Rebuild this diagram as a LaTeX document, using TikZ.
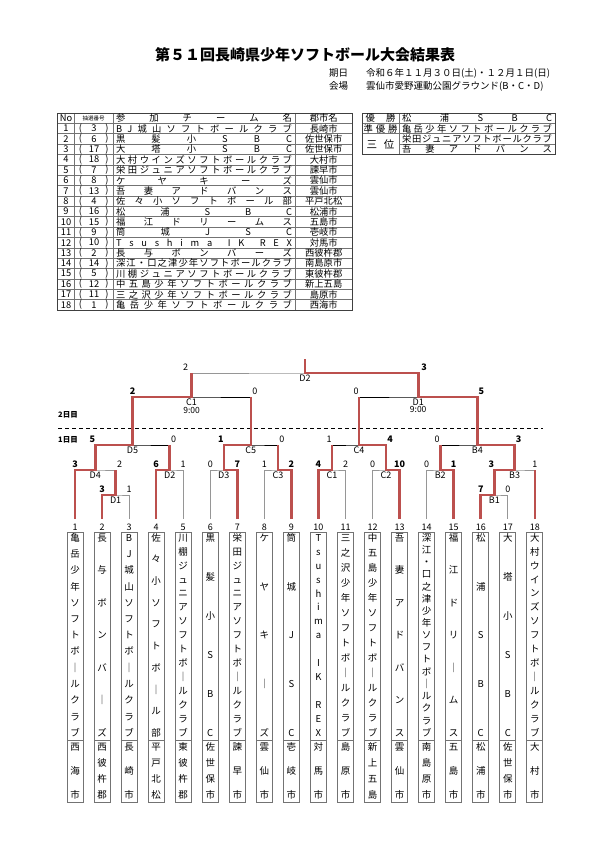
\documentclass[tikz,border=0pt]{standalone}
\usepackage{fontspec}
\setmainfont{Noto Sans CJK JP}
\usetikzlibrary{calc,positioning}

\definecolor{winred}{RGB}{188,80,78}
\definecolor{firstgray}{RGB}{150,150,150}

% spread characters across a fixed width
\def\hsprA#1#2\hsprEnd{#1\ifx\relax#2\relax\else\hfill\hsprA#2\hsprEnd\fi}
\newcommand\hspread[2]{\makebox[#1]{\expandafter\hsprA#2\hsprEnd}}
% stack characters down a fixed height
\def\vsprA#1#2\vsprEnd{\hbox to 13pt{\hss\rule[-1.5pt]{0pt}{9.6pt}#1\hss}%
  \ifx\relax#2\relax\else\vfill\vsprA#2\vsprEnd\fi}
\newcommand\vspread[2]{\vbox to #1{\offinterlineskip\expandafter\vsprA#2\vsprEnd}}

\begin{document}
\begin{tikzpicture}[x=1pt,y=-1pt,
  tline/.style={draw=black!55,line width=0.5pt},
  frame/.style={draw=black!75,line width=0.8pt},
  cell/.style={inner sep=0pt,font=\fontsize{9.3}{10}\selectfont},
  info/.style={inner sep=0pt,anchor=west,font=\fontsize{9.5}{10}\selectfont},
  firstline/.style={draw=firstgray,line width=0.7pt},
  upperline/.style={draw=black,line width=0.7pt},
  winline/.style={draw=winred,line width=2.6pt,line join=miter},
  score/.style={anchor=south,inner sep=1pt,yshift=1pt,font=\fontsize{9}{10}\selectfont},
  winscore/.style={score,font=\fontsize{9}{10}\selectfont\bfseries},
  sl/.style={xshift=-3pt},
  sr/.style={xshift=4pt},
  mlabel/.style={anchor=north,inner sep=0.5pt,yshift=-1pt,font=\fontsize{9}{10}\selectfont},
  timelabel/.style={inner sep=0.5pt,font=\fontsize{8.5}{9}\selectfont},
  daylabel/.style={inner sep=0pt,font=\fontsize{7.5}{8}\selectfont\bfseries},
  tnum/.style={inner sep=0pt,font=\fontsize{9}{10}\selectfont},
  boxline/.style={draw=black!55,line width=0.8pt},
  vname/.style={inner sep=0pt,font=\fontsize{9.5}{10}\selectfont}]
\useasboundingbox (0,0) rectangle (595,842);

% title
\node[font=\fontsize{15}{15}\selectfont\bfseries] (title) at (305,55) {第５１回長崎県少年ソフトボール大会結果表};
\node[info] (dateh) at (329,73) {期日};
\node[info] (date) at (366,73) {令和６年１１月３０日(土)・１２月１日(日)};
\node[info] (placeh) at (329,86) {会場};
\node[info] (place) at (366,86) {雲仙市愛野運動公園グラウンド(B・C・D)};

% entry table
\foreach \k in {0,...,19}
  \draw[tline] (57.5,{113+10.37*\k}) -- (352.5,{113+10.37*\k});
\foreach \x in {74.5,113,295}
  \draw[tline] (\x,113) -- (\x,310.3);
\draw[frame] (57.5,113) rectangle (352.5,310.3);
\node[cell] (hno) at (66,118.2) {No};
\node[cell,font=\fontsize{5.5}{6}\selectfont] (hlot) at (93.7,118.2) {抽選番号};
\node[cell] (hteam) at (204,118.2) {\hspread{176pt}{参加チーム名}};
\node[cell] (hcity) at (323.7,118.2) {郡市名};
\foreach \no/\lot/\team/\city in {
  1/3/BJ城山ソフトボールクラブ/長崎市,
  2/6/黒髪小SBC/佐世保市,
  3/17/大塔小SBC/佐世保市,
  4/18/大村ウインズソフトボールクラブ/大村市,
  5/7/栄田ジュニアソフトボールクラブ/諫早市,
  6/8/ケヤキーズ/雲仙市,
  7/13/吾妻アドバンス/雲仙市,
  8/4/佐々小ソフトボール部/平戸北松,
  9/16/松浦SBC/松浦市,
  10/15/福江ドリームス/五島市,
  11/9/筒城JSC/壱岐市,
  12/10/Tsushima{}IK{}REX/対馬市,
  13/2/長与ボンバーズ/西彼杵郡,
  14/14/深江・口之津少年ソフトボールクラブ/南島原市,
  15/5/川棚ジュニアソフトボールクラブ/東彼杵郡,
  16/12/中五島少年ソフトボールクラブ/新上五島,
  17/11/三之沢少年ソフトボールクラブ/島原市,
  18/1/亀岳少年ソフトボールクラブ/西海市}{
  \pgfmathsetmacro\y{113+10.37*(\no+0.5)}
  \node[cell] (no\no) at (66,\y) {\no};
  \node[cell] (lp\no) at (80.5,\y) {(};
  \node[cell] (lot\no) at (94,\y) {\lot};
  \node[cell] (rp\no) at (107,\y) {)};
  \node[cell] (team\no) at (204,\y) {\hspread{176pt}{\team}};
  \node[cell] (city\no) at (323.7,\y) {\city};
}

% result table
\foreach \k in {0,1,2,4}
  \draw[tline] (362,{113+10.37*\k}) -- (555,{113+10.37*\k});
\draw[tline] (399,144.1) -- (555,144.1);
\draw[tline] (399,113) -- (399,154.5);
\draw[frame] (362,113) rectangle (555,154.5);
\node[cell] (rwin) at (380.5,118.2) {\hspread{30pt}{優勝}};
\node[cell] (rwinteam) at (477,118.2) {\hspread{150pt}{松浦SBC}};
\node[cell] (rsec) at (380.5,128.6) {\hspread{34pt}{準優勝}};
\node[cell] (rsecteam) at (477,128.6) {\hspread{150pt}{亀岳少年ソフトボールクラブ}};
\node[cell,font=\fontsize{10.5}{11}\selectfont] (rthird) at (380.5,144.1) {\hspread{28pt}{三位}};
\node[cell] (rthirdA) at (477,138.9) {\hspread{150pt}{栄田ジュニアソフトボールクラブ}};
\node[cell] (rthirdB) at (477,149.3) {\hspread{150pt}{吾妻アドバンス}};

% bracket points
\foreach \i in {1,...,18}
  \coordinate (t\i) at ({75+27.05*(\i-1)},519);
\coordinate (D1) at (115.6,495);
\coordinate (D4) at (95.3,470);
\coordinate (D2) at (169.7,470);
\coordinate (D5) at (132.5,445);
\coordinate (D3) at (223.8,470);
\coordinate (C3) at (277.9,470);
\coordinate (C5) at (250.8,445);
\coordinate (C1) at (332.0,470);
\coordinate (C2) at (386.1,470);
\coordinate (C4) at (359.0,445);
\coordinate (B2) at (440.2,470);
\coordinate (B1) at (494.3,495);
\coordinate (B3) at (514.6,470);
\coordinate (B4) at (477.4,445);
\coordinate (c1day2) at (191.6,397);
\coordinate (d1day2) at (418.2,397);
\coordinate (final) at (304.9,373);
\coordinate (top) at (304.9,359);

% day split
\coordinate (dayL) at (58,428);
\coordinate (dayR) at (543,428);
\draw[dash pattern=on 4pt off 3pt,line width=0.7pt] (dayL) -- (dayR);
\node[daylabel] (day2) at (68,415) {2日目};
\node[daylabel] (day1) at (68,440) {1日目};

% bracket lines
\draw[firstline] (t2) |- (D1) -| (t3);
\draw[firstline] (t1) |- (D4) -| (D1);
\draw[firstline] (t4) |- (D2) -| (t5);
\draw[firstline] (t6) |- (D3) -| (t7);
\draw[firstline] (t8) |- (C3) -| (t9);
\draw[firstline] (t10) |- (C1) -| (t11);
\draw[firstline] (t12) |- (C2) -| (t13);
\draw[firstline] (t14) |- (B2) -| (t15);
\draw[firstline] (t16) |- (B1) -| (t17);
\draw[firstline] (B1) |- (B3) -| (t18);
\draw[upperline] (D4) |- (D5) -| (D2);
\draw[upperline] (D3) |- (C5) -| (C3);
\draw[upperline] (C1) |- (C4) -| (C2);
\draw[upperline] (B2) |- (B4) -| (B3);
\draw[upperline] (D5) |- (c1day2) -| (C5);
\draw[upperline] (C4) |- (d1day2) -| (B4);
\draw[firstline] (c1day2) |- (final) -| (d1day2);

% winners
\draw[winline] (t1) |- (D4) |- (D5) |- (c1day2) -- (c1day2 |- final);
\draw[winline] (t2) |- (D1) -- (D1 |- D4);
\draw[winline] (t4) |- (D2) -- (D2 |- D5);
\draw[winline] (t7) |- (D3) |- (C5) -- (C5 |- c1day2);
\draw[winline] (t9) |- (C3) -- (C3 |- C5);
\draw[winline] (t10) |- (C1) -- (C1 |- C4);
\draw[winline] (t13) |- (C2) |- (C4) -- (C4 |- d1day2);
\draw[winline] (t15) |- (B2) -- (B2 |- B4);
\draw[winline] (t16) |- (B1) |- (B3) |- (B4) |- (d1day2) |- (final) -- (top);
\draw[winline] (t18) -- (t18 |- B3);

% scores
\node[winscore] (sD1L) at (t2 |- D1) {3};
\node[score] (sD1R) at (t3 |- D1) {1};
\node[winscore] (sD4L) at (t1 |- D4) {3};
\node[score,sr] (sD4R) at (D1 |- D4) {2};
\node[winscore] (sD2L) at (t4 |- D2) {6};
\node[score] (sD2R) at (t5 |- D2) {1};
\node[winscore,sl] (sD5L) at (D4 |- D5) {5};
\node[score,sr] (sD5R) at (D2 |- D5) {0};
\node[score] (sD3L) at (t6 |- D3) {0};
\node[winscore] (sD3R) at (t7 |- D3) {7};
\node[score] (sC3L) at (t8 |- C3) {1};
\node[winscore] (sC3R) at (t9 |- C3) {2};
\node[winscore,sl] (sC5L) at (D3 |- C5) {1};
\node[score,sr] (sC5R) at (C3 |- C5) {0};
\node[winscore] (sC1L) at (t10 |- C1) {4};
\node[score] (sC1R) at (t11 |- C1) {2};
\node[score] (sC2L) at (t12 |- C2) {0};
\node[winscore] (sC2R) at (t13 |- C2) {10};
\node[score,sl] (sC4L) at (C1 |- C4) {1};
\node[winscore,sr] (sC4R) at (C2 |- C4) {4};
\node[score] (sB2L) at (t14 |- B2) {0};
\node[winscore] (sB2R) at (t15 |- B2) {1};
\node[winscore] (sB1L) at (t16 |- B1) {7};
\node[score] (sB1R) at (t17 |- B1) {0};
\node[winscore,sl] (sB3L) at (B1 |- B3) {3};
\node[score] (sB3R) at (t18 |- B3) {1};
\node[score,sl] (sB4L) at (B2 |- B4) {0};
\node[winscore,sr] (sB4R) at (B3 |- B4) {3};
\node[winscore] (sc1L) at (D5 |- c1day2) {2};
\node[score,sr] (sc1R) at (C5 |- c1day2) {0};
\node[score,sl] (sd1L) at (C4 |- d1day2) {0};
\node[winscore,sr] (sd1R) at (B4 |- d1day2) {5};
\node[score,sl,xshift=-3pt] (sfL) at (c1day2 |- final) {2};
\node[winscore,sr,xshift=2pt] (sfR) at (d1day2 |- final) {3};

% game labels
\node[mlabel] (lD1) at (D1) {D1};
\node[mlabel] (lD4) at (D4) {D4};
\node[mlabel] (lD2) at (D2) {D2};
\node[mlabel] (lD5) at (D5) {D5};
\node[mlabel] (lD3) at (D3) {D3};
\node[mlabel] (lC3) at (C3) {C3};
\node[mlabel] (lC5) at (C5) {C5};
\node[mlabel] (lC1) at (C1) {C1};
\node[mlabel] (lC2) at (C2) {C2};
\node[mlabel] (lC4) at (C4) {C4};
\node[mlabel] (lB2) at (B2) {B2};
\node[mlabel] (lB1) at (B1) {B1};
\node[mlabel] (lB3) at (B3) {B3};
\node[mlabel] (lB4) at (B4) {B4};
\node[mlabel] (lc1day2) at (c1day2) {C1};
\node[timelabel,below=0pt of lc1day2] (tc1day2) {9:00};
\node[mlabel] (ld1day2) at (d1day2) {D1};
\node[timelabel,below=0pt of ld1day2] (td1day2) {9:00};
\node[mlabel] (lfinal) at (final) {D2};

% team boxes
\foreach \i/\nm/\ct in {
  1/亀岳少年ソフトボ｜ルクラブ/西海市,
  2/長与ボンバ｜ズ/西彼杵郡,
  3/BJ城山ソフトボ｜ルクラブ/長崎市,
  4/佐々小ソフトボ｜ル部/平戸北松,
  5/川棚ジュニアソフトボ｜ルクラブ/東彼杵郡,
  6/黒髪小SBC/佐世保市,
  7/栄田ジュニアソフトボ｜ルクラブ/諫早市,
  8/ケヤキ｜ズ/雲仙市,
  9/筒城JSC/壱岐市,
  10/Tsushima{}IK{}REX/対馬市,
  11/三之沢少年ソフトボ｜ルクラブ/島原市,
  12/中五島少年ソフトボ｜ルクラブ/新上五島,
  13/吾妻アドバンス/雲仙市,
  14/深江・口之津少年ソフトボ｜ルクラブ/南島原市,
  15/福江ドリ｜ムス/五島市,
  16/松浦SBC/松浦市,
  17/大塔小SBC/佐世保市,
  18/大村ウインズソフトボ｜ルクラブ/大村市}{
  \pgfmathsetmacro\x{75+27.05*(\i-1)}
  \node[tnum] (n\i) at (\x,527) {\i};
  \draw[boxline] ({\x-8},532) rectangle ({\x+8},802);
  \draw[boxline] ({\x-8},740) -- ({\x+8},740);
  \node[vname] (name\i) at (\x,635.5) {\vspread{203pt}{\nm}};
  \node[vname] (town\i) at (\x,771) {\vspread{56pt}{\ct}};
}
\end{tikzpicture}
\end{document}
